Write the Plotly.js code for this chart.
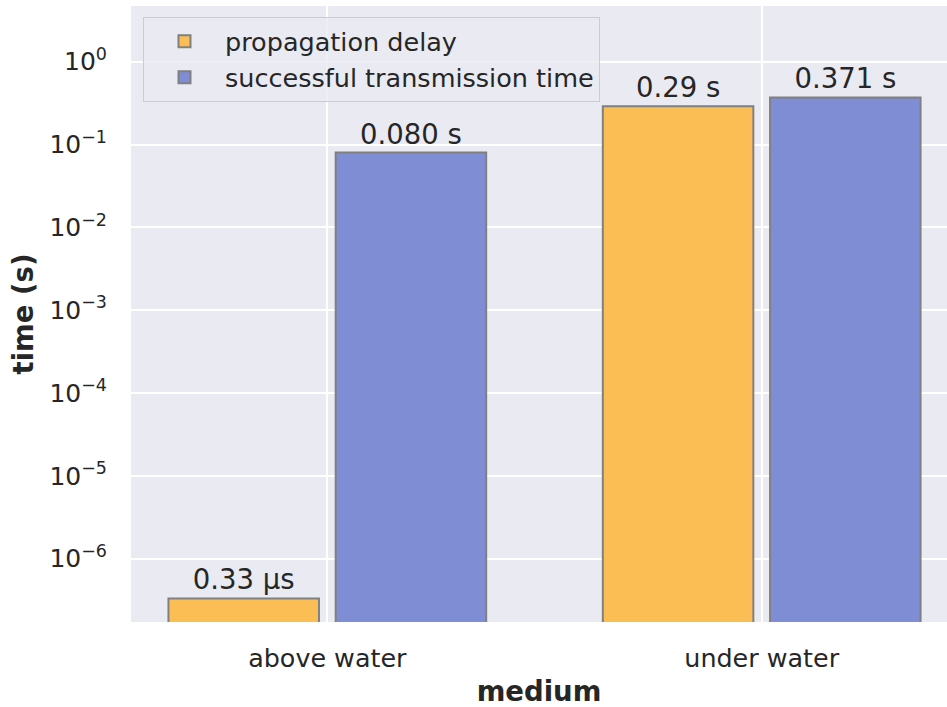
<!DOCTYPE html>
<html>
<head>
<meta charset="utf-8">
<script src="https://cdn.plot.ly/plotly-3.0.1.min.js"></script>
<style>html,body{margin:0;padding:0;background:#fff;}#chart{width:947px;height:707px;}</style>
</head>
<body>
<div id="chart"></div>
<script>
const categories = ["above water", "under water"];
const seriesNames = ["propagation delay", "successful transmission time"];
const propagationDelay = [0.33e-6, 0.29];
const transmissionTime = [0.080, 0.371];
const propagationLabels = ["0.33 µs", "0.29 s"];
const transmissionLabels = ["0.080 s", "0.371 s"];
const yTickVals = [1e-6, 1e-5, 1e-4, 1e-3, 1e-2, 1e-1, 1];
const yTickText = ["10<sup>−6</sup>", "10<sup>−5</sup>", "10<sup>−4</sup>", "10<sup>−3</sup>", "10<sup>−2</sup>", "10<sup>−1</sup>", "10<sup>0</sup>"];

const FONT = "DejaVu Sans, sans-serif";
const TXT = "#262626";

const traces = [
  {
    type: "bar", name: seriesNames[0], x: categories, y: propagationDelay,
    text: propagationLabels, textposition: "outside", cliponaxis: false,
    textfont: {family: FONT, size: 27.5, color: TXT},
    marker: {color: "#fbbe55", line: {color: "#808080", width: 2}},
    hoverinfo: "skip"
  },
  {
    type: "bar", name: seriesNames[1], x: categories, y: transmissionTime,
    text: transmissionLabels, textposition: "outside", cliponaxis: false,
    textfont: {family: FONT, size: 27.5, color: TXT},
    marker: {color: "#7f8dd4", line: {color: "#808080", width: 2}},
    hoverinfo: "skip"
  }
];

const layout = {
  width: 947, height: 707,
  margin: {l: 131, r: 0, t: 6, b: 85},
  paper_bgcolor: "#ffffff",
  plot_bgcolor: "#eaeaf2",
  font: {family: FONT, color: TXT, size: 25},
  barmode: "group",
  bargap: 0.23,
  bargroupgap: 0.1,
  showlegend: true,
  legend: {
    x: 0.0147, y: 0.982, xanchor: "left", yanchor: "top",
    bgcolor: "rgba(234,234,242,0.8)", bordercolor: "#cccccc", borderwidth: 1,
    font: {family: FONT, size: 25.5, color: TXT},
    itemwidth: 71, traceorder: "normal"
  },
  xaxis: {
    type: "category",
    range: [-0.452, 1.4266],
    showgrid: true, gridcolor: "#ffffff", gridwidth: 2,
    zeroline: false, showline: false,
    ticks: "outside", ticklen: 14, tickcolor: "rgba(0,0,0,0)",
    tickfont: {family: FONT, size: 25.4, color: TXT},
    title: {text: "<b>medium</b>", font: {family: FONT, size: 27.5, color: TXT}, standoff: 10},
    automargin: false
  },
  yaxis: {
    type: "log",
    range: [-6.766, 0.673],
    tickvals: yTickVals, ticktext: yTickText,
    showgrid: true, gridcolor: "#ffffff", gridwidth: 2,
    zeroline: false, showline: false,
    ticks: "outside", ticklen: 18, tickcolor: "rgba(0,0,0,0)",
    tickfont: {family: FONT, size: 25, color: TXT},
    title: {text: "<b>time (s)</b>", font: {family: FONT, size: 27.5, color: TXT}, standoff: 7},
    automargin: false
  }
};

Plotly.newPlot("chart", traces, layout, {displayModeBar: false, staticPlot: true});
</script>
</body>
</html>
